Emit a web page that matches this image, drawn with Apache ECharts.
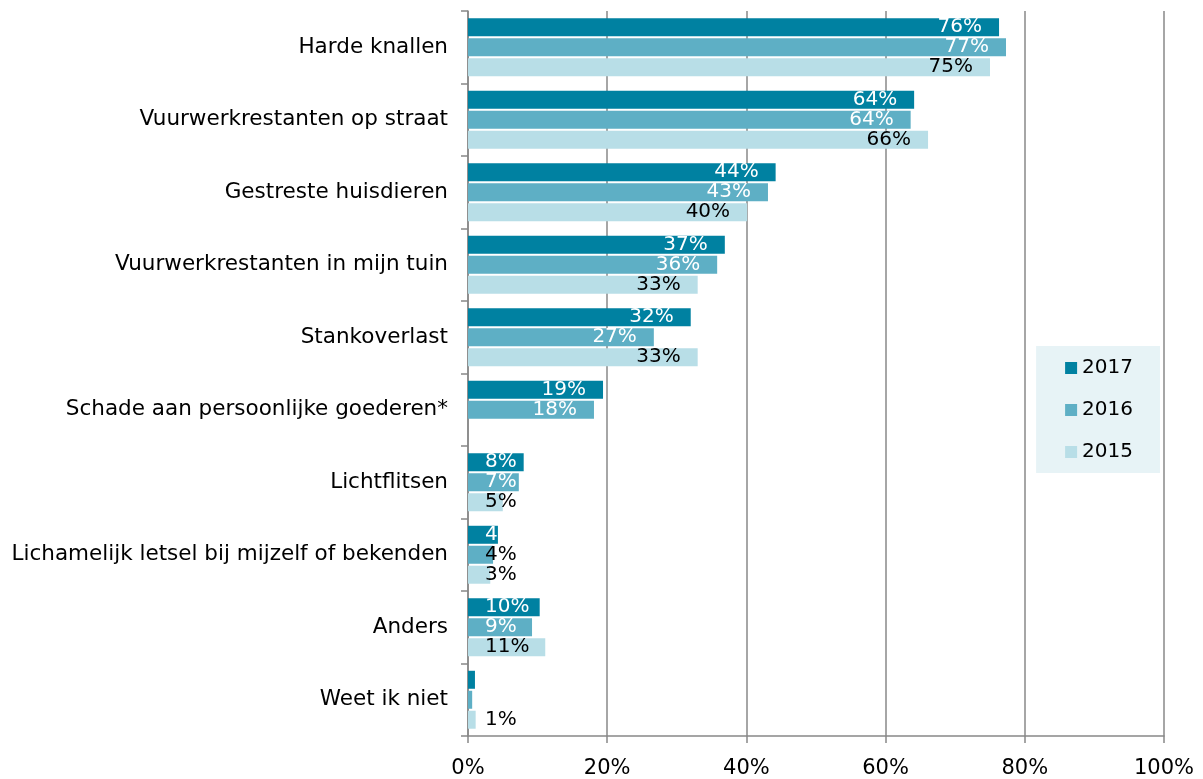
<!DOCTYPE html>
<html>
<head>
<meta charset="utf-8">
<script src="https://cdn.jsdelivr.net/npm/echarts@6/dist/echarts.min.js"></script>
<style>
  html, body { margin: 0; padding: 0; background: #fff; }
  #main { width: 1203px; height: 779px; }
</style>
</head>
<body>
<div id="main"></div>
<script>
var categories = ['Harde knallen', 'Vuurwerkrestanten op straat', 'Gestreste huisdieren',
  'Vuurwerkrestanten in mijn tuin', 'Stankoverlast', 'Schade aan persoonlijke goederen*',
  'Lichtflitsen', 'Lichamelijk letsel bij mijzelf of bekenden', 'Anders', 'Weet ik niet'];

var years = ['2017', '2016', '2015'];

var v2017 = [76.3, 64.1, 44.2, 36.9, 32.0, 19.4, 8.0, 4.3, 10.3, 1.0];
var v2016 = [77.3, 63.6, 43.1, 35.8, 26.7, 18.1, 7.3, 3.6, 9.2, 0.6];
var v2015 = [75.0, 66.1, 40.1, 33.0, 33.0, null, 5.0, 3.2, 11.1, 1.1];

var t2017 = ['76%', '64%', '44%', '37%', '32%', '19%', '8%', '4', '10%', ''];
var t2016 = ['77%', '64%', '43%', '36%', '27%', '18%', '7%', '4%', '9%', ''];
var t2015 = ['75%', '66%', '40%', '33%', '33%', '', '5%', '3%', '11%', '1%'];

var xTicks = [0, 20, 40, 60, 80, 100];

var colors = ['#0081a1', '#5eafc5', '#b8dee7'];
var font = 'DejaVu Sans';

function makeData(vals, texts, color) {
  return vals.map(function (v, i) {
    var small = v !== null && v < 12;
    var c = color;
    if (v !== null && v < 4) c = '#000';   // label sticks out of the bar
    return {
      value: v,
      label: {
        formatter: texts[i],
        position: small ? 'insideLeft' : 'insideRight',
        distance: 17,
        color: c
      }
    };
  });
}

var myChart = echarts.init(document.getElementById('main'));

var seriesVals = [v2017, v2016, v2015];
var seriesTexts = [t2017, t2016, t2015];
var labelColors = ['#fff', '#fff', '#000'];

var series = years.map(function (y, k) {
  return {
    name: y,
    type: 'bar',
    barWidth: 18,
    barGap: '11%',
    itemStyle: { color: colors[k] },
    label: {
      show: true,
      fontFamily: font,
      fontSize: 20
    },
    data: makeData(seriesVals[k], seriesTexts[k], labelColors[k])
  };
});

var option = {
  animation: false,
  textStyle: { fontFamily: font },
  grid: { left: 468, right: 39, top: 11, bottom: 43 },
  legend: {
    orient: 'vertical',
    right: 43,
    top: 346,
    data: years,
    icon: 'rect',
    itemWidth: 12,
    itemHeight: 12,
    itemGap: 22,
    padding: [12, 27, 11, 29],
    backgroundColor: '#e7f3f6',
    textStyle: { fontFamily: font, fontSize: 20, color: '#000' }
  },
  xAxis: {
    type: 'value',
    min: 0,
    max: 100,
    interval: 20,
    axisLabel: {
      fontFamily: font,
      fontSize: 21,
      color: '#000',
      margin: 22,
      formatter: function (v) { return xTicks.indexOf(v) >= 0 ? v + '%' : ''; }
    },
    axisLine: { show: true, lineStyle: { color: '#888', width: 1.5 } },
    axisTick: { show: true, length: 7, lineStyle: { color: '#888', width: 1.5 } },
    splitLine: { show: true, lineStyle: { color: '#888', width: 1.5 } }
  },
  yAxis: {
    type: 'category',
    inverse: true,
    data: categories,
    axisLabel: { fontFamily: font, fontSize: 21.5, color: '#000', margin: 20 },
    axisLine: { show: true, lineStyle: { color: '#888', width: 1.5 } },
    axisTick: { show: true, length: 7, lineStyle: { color: '#888', width: 1.5 } },
    splitLine: { show: false }
  },
  series: series
};

myChart.setOption(option);
</script>
</body>
</html>
